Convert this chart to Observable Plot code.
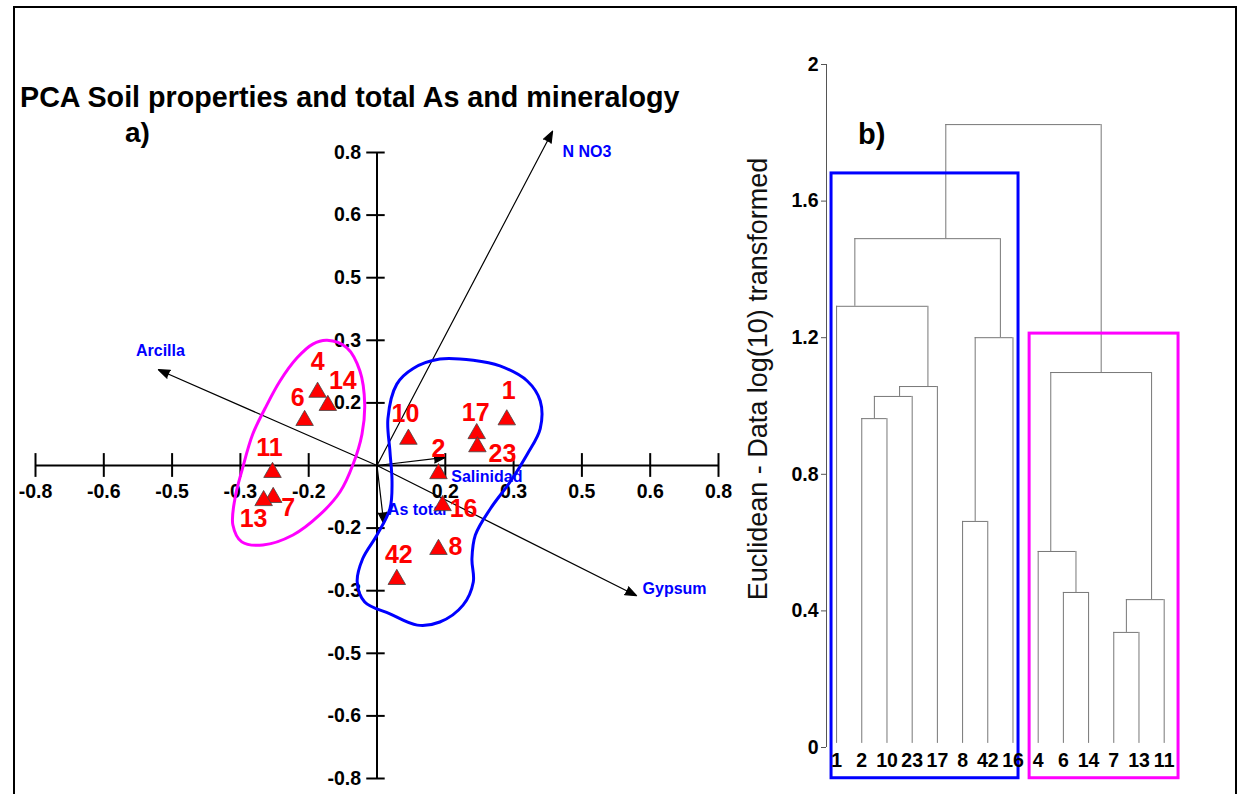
<!DOCTYPE html>
<html><head><meta charset="utf-8">
<script src="https://cdn.jsdelivr.net/npm/d3@7"></script>
<script src="https://cdn.jsdelivr.net/npm/@observablehq/plot@0.6"></script>
<style>
html,body{margin:0;padding:0;background:#fff;overflow:hidden}
#wrap{position:relative;width:1238px;height:794px;overflow:hidden;font-family:"Liberation Sans",Arial,sans-serif;background:#fff}
#frame{position:absolute;left:13px;top:6px;width:1224px;height:830px;border:2px solid #000;box-sizing:border-box}
.lbl{position:absolute;white-space:nowrap;font-weight:bold;color:#000}
#title{left:20px;top:83px;font-size:28.7px;line-height:28px}
#pa{left:125px;top:119px;font-size:28px;line-height:28px}
#pb{left:858px;top:120px;font-size:29px;line-height:29px}
svg{position:absolute}
</style></head>
<body>
<div id="wrap">
  <div id="frame"></div>
  <div id="title" class="lbl">PCA Soil properties and total As and mineralogy</div>
  <div id="pa" class="lbl">a)</div>
  <div id="pb" class="lbl">b)</div>
</div>
<script>
// ---------- PCA data (axis units: one unit per tick step) ----------
const tickSteps = [-5,-4,-3,-2,-1,1,2,3,4,5];
const xTickLabels = ["-0.8","-0.6","-0.5","-0.3","-0.2","0.2","0.3","0.5","0.6","0.8"];
const yTickLabels = ["-0.8","-0.6","-0.5","-0.3","-0.2","0.2","0.3","0.5","0.6","0.8"];

const sampleIds = ["1","2","4","6","7","8","10","11","13","14","16","17","23","42"];
const pc1 = [1.90, 0.90, -0.87, -1.06, -1.52, 0.90, 0.46, -1.53, -1.66, -0.72, 0.96, 1.46, 1.47, 0.29];
const pc2 = [0.73, -0.13, 1.17, 0.72, -0.51, -1.34, 0.42, -0.11, -0.56, 0.96, -0.64, 0.51, 0.30, -1.82];

const varNames = ["N NO3","Arcilla","Gypsum","Salinidad","As total"];
const varPc1 = [2.57, -3.20, 3.80, 1.00, 0.10];
const varPc2 = [5.34, 1.53, -2.08, 0.13, -0.93];

const magentaHullX = [-0.73,-0.44,-0.25,-0.18,-0.22,-0.35,-0.54,-0.84,-1.23,-1.67,-1.98,-2.11,-2.08,-1.97,-1.82,-1.64,-1.42,-1.17,-0.94];
const magentaHullY = [2.00,1.88,1.51,0.98,0.50,0.02,-0.42,-0.79,-1.11,-1.27,-1.22,-0.95,-0.53,-0.05,0.50,0.91,1.35,1.72,1.94];
const blueHullX = [0.92,1.41,1.80,2.20,2.39,2.39,2.20,1.95,1.66,1.44,1.39,1.41,1.26,0.92,0.59,0.19,-0.18,-0.29,-0.21,0.00,0.19,0.22,0.19,0.16,0.29,0.53];
const blueHullY = [1.70,1.68,1.59,1.35,1.03,0.59,0.18,-0.26,-0.69,-1.11,-1.49,-1.86,-2.23,-2.50,-2.55,-2.37,-2.18,-1.86,-1.49,-1.11,-0.69,-0.26,0.22,0.75,1.30,1.55];

// ---------- Dendrogram data ----------
const leafOrder = ["1","2","10","23","17","8","42","16","4","6","14","7","13","11"];
const mergeLeft  = ["2","m0","m1","1","8","m4","m3","6","4","7","m9","m8","m6"];
const mergeRight = ["10","23","17","m2","42","16","m5","14","m7","13","11","m10","m11"];
const mergeHeight = [0.963,1.028,1.057,1.292,0.662,1.200,1.490,0.454,0.574,0.337,0.433,1.098,1.824];
const dTicks = [0,0.4,0.8,1.2,1.6,2];
const dTickLabels = ["0","0.4","0.8","1.2","1.6","2"];
const clusterX1 = [-0.2, 7.66];
const clusterX2 = [7.22, 13.57];
const clusterTop = [1.681, 1.212];
const clusterBottom = -0.09;

// ---------- layout / style ----------
const FONT = '"Liberation Sans", Arial, sans-serif';
const sampleNudge = {"1":[2,-29],"2":[0,-25],"4":[0,-30],"6":[-7,-22],"7":[15,11],"8":[17,-2],"10":[-3,-25],"11":[-3,-24],"13":[-10,18],"14":[15,-24],"16":[21,3],"17":[-1,-21],"23":[25,7],"42":[2,-24]};
const varNudge = {"N NO3":[10,21,"start"],"Arcilla":[2,-19,"middle"],"Gypsum":[6,-7,"start"],"Salinidad":[6,20,"start"],"As total":[4,-14,"start"]};
const clusterColors = ["#0000ff","#ff00ff"];

const samples = sampleIds.map((id,i)=>({id, x: pc1[i], y: pc2[i]}));
const vars = varNames.map((n,i)=>({name:n, x: varPc1[i], y: varPc2[i]}));
const magentaHull = magentaHullX.map((x,i)=>({x, y: magentaHullY[i]}));
const blueHull = blueHullX.map((x,i)=>({x, y: blueHullY[i]}));

const pca = Plot.plot({
  width: 740, height: 794,
  marginLeft: 35, marginRight: 22, marginTop: 152, marginBottom: 16,
  x: {domain: [-5,5], axis: null},
  y: {domain: [-5,5], axis: null},
  style: {fontFamily: FONT, fontSize: "19px", fontWeight: "bold", overflow: "visible", background: "transparent", color: "#000"},
  marks: [
    Plot.ruleY([0], {x1: -5, x2: 5, strokeWidth: 2}),
    Plot.ruleX(tickSteps, {x: d=>d, y1: -0.19, y2: 0.19, strokeWidth: 2}),
    Plot.ruleX([0], {y1: -5, y2: 5, strokeWidth: 2}),
    Plot.ruleY(tickSteps, {y: d=>d, x1: -0.15, x2: 0.12, strokeWidth: 2}),
    Plot.text(tickSteps, {x: d=>d, y: 0, text: (d,i)=>xTickLabels[i], dy: 26, fontSize: 19.5, fontWeight: "bold"}),
    Plot.text(tickSteps, {x: 0, y: d=>d, text: (d,i)=>yTickLabels[i], dx: -16, textAnchor: "end", fontSize: 19.5, fontWeight: "bold"}),
    Plot.arrow(vars, {x1: 0, y1: 0, x2: "x", y2: "y", stroke: "#000", fill: "#000", strokeWidth: 1.2, headLength: 15, headAngle: 42}),
    Plot.line(magentaHull, {x: "x", y: "y", curve: "catmull-rom-closed", stroke: "#ff00ff", strokeWidth: 3}),
    Plot.line(blueHull, {x: "x", y: "y", curve: "catmull-rom-closed", stroke: "#0000ff", strokeWidth: 3}),
    ...vars.map(v => Plot.text([v], {x: "x", y: "y", text: "name", dx: varNudge[v.name][0], dy: varNudge[v.name][1], textAnchor: varNudge[v.name][2], fill: "#0000ff", fontSize: 16, fontWeight: "bold"})),
    Plot.dot(samples, {x: "x", y: "y", symbol: "triangle", r: 6.5, fill: "#ff0000", stroke: "#444", strokeWidth: 0.8}),
    ...samples.map(s => Plot.text([s], {x: "x", y: "y", text: "id", dx: sampleNudge[s.id][0], dy: sampleNudge[s.id][1], fill: "#ff0000", fontSize: 25, fontWeight: "bold"}))
  ]
});
pca.style.left = "0px"; pca.style.top = "0px";
document.getElementById("wrap").appendChild(pca);

// ---------- dendrogram geometry from merges ----------
const nodes = new Map();
leafOrder.forEach((id,i)=>nodes.set(id, {x: i, h: 0.012, n: 1}));
const hSegs = [], vSegs = [];
mergeHeight.forEach((h,k)=>{
  const L = nodes.get(mergeLeft[k]), R = nodes.get(mergeRight[k]);
  hSegs.push({x1: L.x, x2: R.x, y: h});
  vSegs.push({x: L.x, y1: L.h, y2: h});
  vSegs.push({x: R.x, y1: R.h, y2: h});
  const n = L.n + R.n;
  nodes.set("m"+k, {x: (R.n*L.x + L.n*R.x)/n, h, n});
});
const leaves = leafOrder.map((id,i)=>({id, x: i}));
const clusters = clusterX1.map((x1,i)=>({x1, x2: clusterX2[i], y1: clusterBottom, y2: clusterTop[i], c: clusterColors[i]}));

const dendro = Plot.plot({
  width: 498, height: 794,
  marginLeft: 86, marginRight: 59.2, marginTop: 64, marginBottom: 47,
  x: {domain: [-0.4, 13.6], axis: null},
  y: {domain: [0, 2], axis: null},
  style: {fontFamily: FONT, fontSize: "19px", fontWeight: "bold", overflow: "visible", background: "transparent", color: "#000"},
  marks: [
    Plot.ruleX([-0.4], {y1: 0, y2: 2, stroke: "#555", strokeWidth: 1}),
    Plot.axisY({ticks: dTicks, tickFormat: d => dTickLabels[dTicks.indexOf(d)], tickSize: 5, tickPadding: 3, stroke: "#555", fontSize: 19.5, fontWeight: "bold", label: null}),
    Plot.text(["Euclidean - Data log(10) transformed"], {frameAnchor: "left", rotate: -90, textAnchor: "middle", dx: -68, dy: -27, fontSize: 27, fontWeight: "normal", fill: "#111"}),
    Plot.ruleX(vSegs, {x: "x", y1: "y1", y2: "y2", stroke: "#777", strokeWidth: 1}),
    Plot.ruleY(hSegs, {y: "y", x1: "x1", x2: "x2", stroke: "#777", strokeWidth: 1}),
    Plot.rect(clusters, {x1: "x1", x2: "x2", y1: "y1", y2: "y2", fill: "none", stroke: "c", strokeWidth: 3}),
    Plot.text(leaves, {x: "x", y: 0, text: "id", dy: 13, fontSize: 19.5, fontWeight: "bold"})
  ]
});
dendro.style.left = "740px"; dendro.style.top = "0px";
document.getElementById("wrap").appendChild(dendro);
</script>
</body></html>
